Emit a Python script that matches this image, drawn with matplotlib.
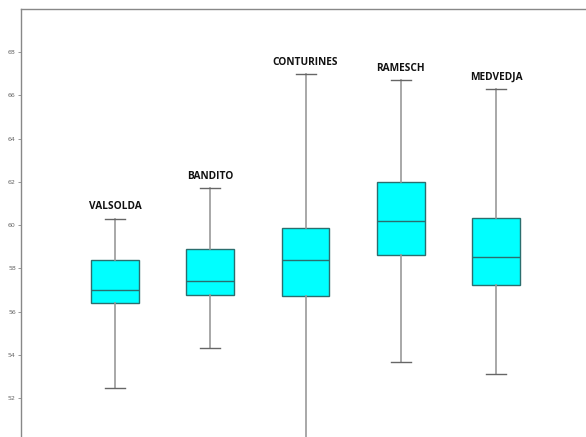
import matplotlib
matplotlib.use("Agg")
import matplotlib.pyplot as plt

sites = ["VALSOLDA", "BANDITO", "CONTURINES", "RAMESCH", "MEDVEDJA"]
whisker_low = [52.48, 54.3, 49.5, 53.65, 53.1]
q1 = [56.4, 56.75, 56.7, 58.6, 57.25]
median = [57.0, 57.4, 58.4, 60.2, 58.55]
q3 = [58.4, 58.9, 59.85, 62.0, 60.35]
whisker_high = [60.3, 61.7, 67.0, 66.7, 66.3]
yticks = [52, 54, 56, 58, 60, 62, 64, 66, 68]

fig = plt.figure(figsize=(5.86, 4.37), dpi=100)
ax = fig.add_axes([0.0353, 0.0, 0.99, 0.9794])

stats = []
for i, s in enumerate(sites):
    stats.append(dict(label=s, whislo=whisker_low[i], q1=q1[i], med=median[i],
                      q3=q3[i], whishi=whisker_high[i], fliers=[]))

positions = [1, 2, 3, 4, 5]
ax.bxp(stats, positions=positions, widths=0.5, patch_artist=True, showfliers=False,
       boxprops=dict(facecolor="#00FFFF", edgecolor="#2B6E6E", linewidth=1.0),
       medianprops=dict(color="#2B6E6E", linewidth=1.0),
       whiskerprops=dict(color="#9A9A9A", linewidth=1.2),
       capprops=dict(color="#666666", linewidth=1.0),
       capwidths=0.21)

for i, s in enumerate(sites):
    ax.annotate(s, xy=(positions[i], whisker_high[i]), xytext=(0, 4.5),
                textcoords="offset points", ha="center", va="bottom",
                fontsize=7.3, fontweight="bold", family="Open Sans", color="#111111")

ax.set_xlim(0.01, 6.1)
ax.set_ylim(50.2, 70.0)
ax.set_yticks(yticks)
ax.set_yticklabels([str(t) for t in yticks], fontsize=4.5, color="#666666")
ax.tick_params(axis="y", length=2, width=0.6, color="#888888", pad=1.5)
ax.set_xticks([])
for sp in ["right", "bottom"]:
    ax.spines[sp].set_visible(False)
for sp in ["left", "top"]:
    ax.spines[sp].set_color("#888888")
    ax.spines[sp].set_linewidth(1.0)

fig.savefig("out.png", dpi=100)
